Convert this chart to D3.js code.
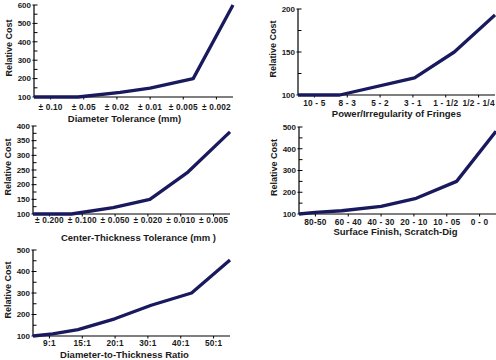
<!DOCTYPE html>
<html><head><meta charset="utf-8">
<script src="https://cdn.jsdelivr.net/npm/d3@7"></script>
<style>
html,body{margin:0;padding:0;background:#fff;}
svg{display:block;font-family:"Liberation Sans",Arial,sans-serif;}
</style></head>
<body><svg id="chart" width="496" height="360"></svg>
<script>
// ---- data ----
const diameterCats = ["± 0.10","± 0.05","± 0.02","± 0.01","± 0.005","± 0.002"];
const diameterPos  = [0, 1.33, 2.6, 3.5, 4.8, 6];
const diameterCost = [100, 100, 125, 148, 200, 600];

const fringeCats = ["10 - 5","8 - 3","5 - 2","3 - 1","1 - 1/2","1/2 - 1/4"];
const fringePos  = [0, 1.27, 3.55, 4.76, 6];
const fringeCost = [100, 100, 120, 150, 193];

const thicknessCats = ["± 0.200","± 0.100","± 0.050","± 0.020","± 0.010","± 0.005"];
const thicknessPos  = [0, 1.17, 2.44, 3.56, 4.72, 6];
const thicknessCost = [100, 100, 122, 150, 243, 380];

const surfaceCats = ["80-50","60 - 40","40 - 30","20 - 10","10 - 05","0 - 0"];
const surfacePos  = [0, 0.5, 1.3, 2.5, 3.57, 4.8, 6];
const surfaceCost = [100, 107, 115, 135, 172, 250, 480];

const ratioCats = ["9:1","15:1","20:1","30:1","40:1","50:1"];
const ratioPos  = [0, 0.6, 1.37, 2.49, 3.6, 4.83, 6];
const ratioCost = [100, 110, 130, 180, 243, 300, 453];

const yTitle = "Relative Cost";

const panels = [
  {cats: diameterCats, pos: diameterPos, cost: diameterCost, title: "Diameter Tolerance (mm)",
   yDomain: [100, 600], major: 100, minor: 50,
   x0: 34, x1: 233, yTop: 5, yBot: 97, lblDy: 13, titleDy: 25, titleDx: -9},
  {cats: fringeCats, pos: fringePos, cost: fringeCost, title: "Power/Irregularity of Fringes",
   yDomain: [100, 200], major: 50, minor: 25,
   x0: 298, x1: 495, yTop: 9, yBot: 95, lblDy: 10.5, titleDy: 22, titleDx: 0},
  {cats: thicknessCats, pos: thicknessPos, cost: thicknessCost, title: "Center-Thickness Tolerance (mm )",
   yDomain: [100, 400], major: 50, minor: 25,
   x0: 33, x1: 230, yTop: 126, yBot: 214, lblDy: 9, titleDy: 27, titleDx: 7},
  {cats: surfaceCats, pos: surfacePos, cost: surfaceCost, title: "Surface Finish, Scratch-Dig",
   yDomain: [100, 500], major: 100, minor: 50,
   x0: 299, x1: 496, yTop: 127, yBot: 214, lblDy: 11, titleDy: 21, titleDx: -2},
  {cats: ratioCats, pos: ratioPos, cost: ratioCost, title: "Diameter-to-Thickness Ratio",
   yDomain: [100, 500], major: 100, minor: 50,
   x0: 33, x1: 230, yTop: 250, yBot: 336, lblDy: 9.5, titleDy: 22, titleDx: -7}
];

const svg = d3.select("#chart");
const lineColor = "#19195e";
const textColor = "#1a1a1a";

panels.forEach(p => {
  const g = svg.append("g");
  const x = d3.scaleLinear().domain([0, p.cats.length]).range([p.x0, p.x1]);
  const y = d3.scaleLinear().domain(p.yDomain).range([p.yBot, p.yTop]);

  g.append("line").attr("x1", p.x0).attr("x2", p.x0).attr("y1", p.yTop).attr("y2", p.yBot)
    .attr("stroke", "#000").attr("stroke-width", 1.2);
  g.append("line").attr("x1", p.x0).attr("x2", p.x1).attr("y1", p.yBot).attr("y2", p.yBot)
    .attr("stroke", "#000").attr("stroke-width", 1.2);

  const minorVals = d3.range(p.yDomain[0], p.yDomain[1] + 0.001, p.minor);
  minorVals.forEach(v => {
    const isMajor = Math.abs((v - p.yDomain[0]) % p.major) < 1e-6;
    g.append("line").attr("x1", isMajor ? p.x0 - 1.5 : p.x0).attr("x2", p.x0 + 3.5)
      .attr("y1", y(v)).attr("y2", y(v)).attr("stroke", "#000").attr("stroke-width", 1);
    if (isMajor) {
      g.append("text").attr("x", p.x0 - 3).attr("y", y(v)).attr("dy", "0.35em")
        .attr("text-anchor", "end").attr("font-size", 8).attr("font-weight", "bold")
        .attr("fill", textColor).text(v);
    }
  });

  p.cats.forEach((c, i) => {
    const cx = x(i + 0.5);
    g.append("line").attr("x1", cx).attr("x2", cx).attr("y1", p.yBot).attr("y2", p.yBot + 2.5)
      .attr("stroke", "#000").attr("stroke-width", 1);
    g.append("text").attr("x", cx).attr("y", p.yBot + p.lblDy)
      .attr("text-anchor", "middle").attr("font-size", 8.3).attr("font-weight", "bold")
      .attr("letter-spacing", 0.2).attr("fill", textColor).text(c);
  });

  g.append("text").attr("x", (p.x0 + p.x1) / 2 + p.titleDx).attr("y", p.yBot + p.titleDy)
    .attr("text-anchor", "middle").attr("font-size", 9.5).attr("font-weight", "bold")
    .attr("fill", textColor).text(p.title);
  const yc = (p.yTop + p.yBot) / 2 - 3;
  g.append("text").attr("transform", `translate(${p.x0 - 22},${yc}) rotate(-90)`)
    .attr("text-anchor", "middle").attr("font-size", 9).attr("font-weight", "bold")
    .attr("fill", textColor).text(yTitle);

  const pts = p.pos.map((v, i) => [v, p.cost[i]]);
  g.append("path").datum(pts)
    .attr("d", d3.line().x(d => x(d[0])).y(d => y(d[1])))
    .attr("fill", "none").attr("stroke", lineColor).attr("stroke-width", 3.3)
    .attr("stroke-linejoin", "round").attr("stroke-linecap", "butt");
});
</script></body></html>
